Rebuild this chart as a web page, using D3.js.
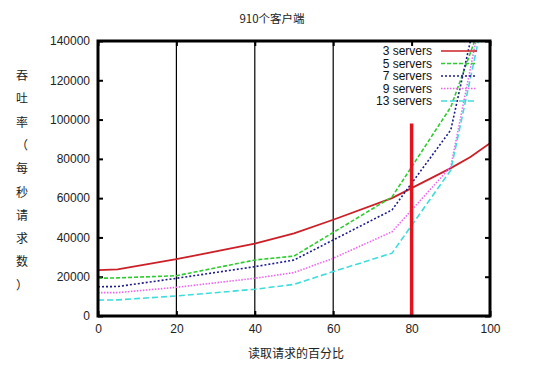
<!DOCTYPE html>
<html>
<head>
<meta charset="utf-8">
<script src="https://cdn.jsdelivr.net/npm/d3@7"></script>
<style>
  body { margin: 0; background: #fff; }
  svg { display: block; }
</style>
</head>
<body>
<div id="chart"></div>
<script>
// read percentage (x) and throughput per server count
const readPct = [0, 5, 20, 40, 50, 60, 75, 90, 95, 100];
const servers3  = [23400, 23700, 28900, 36800, 42100, 49000, 60000, 75300, 80900, 88000];
const servers5  = [19200, 19400, 20500, 28500, 30500, 42500, 60600, 106400, 134000, 162000];
const servers7  = [14900, 15000, 19200, 25100, 28500, 38700, 54000, 94700, 140000, 185000];
const servers9  = [11900, 11900, 14600, 19200, 22100, 29400, 42900, 76000, 126000, 176000];
const servers13 = [8100, 8200, 10200, 13600, 16100, 22600, 32000, 74300, 121000, 168000];

const seriesNames = ["3 servers", "5 servers", "7 servers", "9 servers", "13 servers"];
const seriesValues = [servers3, servers5, servers7, servers9, servers13];

const xTicks = [0, 20, 40, 60, 80, 100];
const yTicks = [0, 20000, 40000, 60000, 80000, 100000, 120000, 140000];
const guideX = [20, 40, 60];
const markerX = 80;
const markerTop = 98000;

const title = "910个客户端";
const xTitle = "读取请求的百分比";
const yTitle = ["吞", "吐", "率", "（", "每", "秒", "请", "求", "数", "）"];

const width = 545;
const height = 372;
const margin = {left: 98, right: 55, top: 41, bottom: 56};

const styles = [
    {color: "#cc2028", dash: null},
    {color: "#2ecc2e", dash: "4,2"},
    {color: "#1c1c8c", dash: "2,2"},
    {color: "#ee66ee", dash: "1.5,1.5"},
    {color: "#3fdcdc", dash: "6,3"}
];

const latin = "'Liberation Sans', Arial, sans-serif";
const cjk = "'Noto Sans CJK SC', 'Liberation Sans', sans-serif";

let svg = d3.select("#chart")
    .append("svg")
    .attr("width", width)
    .attr("height", height);

let xScale = d3.scaleLinear()
    .domain([0, 100])
    .range([margin.left, width - margin.right]);

let yScale = d3.scaleLinear()
    .domain([0, 140000])
    .range([height - margin.bottom, margin.top]);

svg.append("clipPath")
    .attr("id", "plot-clip")
    .append("rect")
    .attr("x", margin.left)
    .attr("y", margin.top)
    .attr("width", width - margin.left - margin.right)
    .attr("height", height - margin.top - margin.bottom);

// axes with inward ticks, mirrored on all sides
let tickLen = 5;
svg.append("g")
    .attr("transform", `translate(${margin.left},0)`)
    .call(d3.axisLeft(yScale).tickValues(yTicks).tickSize(-tickLen).tickPadding(8).tickFormat(d3.format("d")))
    .call(g => g.select(".domain").remove());
svg.append("g")
    .attr("transform", `translate(${width - margin.right},0)`)
    .call(d3.axisRight(yScale).tickValues(yTicks).tickSize(-tickLen).tickFormat(""))
    .call(g => g.select(".domain").remove());
svg.append("g")
    .attr("transform", `translate(0,${height - margin.bottom})`)
    .call(d3.axisBottom(xScale).tickValues(xTicks).tickSize(-tickLen).tickPadding(8))
    .call(g => g.select(".domain").remove());
svg.append("g")
    .attr("transform", `translate(0,${margin.top})`)
    .call(d3.axisTop(xScale).tickValues(xTicks).tickSize(-tickLen).tickFormat(""))
    .call(g => g.select(".domain").remove());

svg.selectAll(".tick line").attr("stroke", "#000").attr("stroke-width", 2);
svg.selectAll(".tick text")
    .style("font-family", latin)
    .style("font-size", "12px")
    .attr("fill", "#222");

// vertical guide lines
svg.append("g")
    .selectAll("line")
    .data(guideX)
    .enter()
    .append("line")
    .attr("x1", d => xScale(d))
    .attr("x2", d => xScale(d))
    .attr("y1", yScale(0))
    .attr("y2", yScale(140000))
    .attr("stroke", "#000")
    .attr("stroke-width", 1.2);

// series
let line = d3.line()
    .x((d, i) => xScale(readPct[i]))
    .y(d => yScale(d));

let plot = svg.append("g").attr("clip-path", "url(#plot-clip)");

plot.selectAll(".curve")
    .data(seriesValues)
    .enter()
    .append("path")
    .attr("class", "curve")
    .attr("fill", "none")
    .attr("stroke", (d, i) => styles[i].color)
    .attr("stroke-width", (d, i) => i == 0 ? 1.8 : 1.6)
    .attr("stroke-dasharray", (d, i) => styles[i].dash)
    .attr("d", d => line(d));

// red marker at 80%
svg.append("line")
    .attr("x1", xScale(markerX))
    .attr("x2", xScale(markerX))
    .attr("y1", yScale(markerTop))
    .attr("y2", yScale(0))
    .attr("stroke", "#e3141e")
    .attr("stroke-width", 3.5);

// frame
svg.append("rect")
    .attr("x", margin.left)
    .attr("y", margin.top)
    .attr("width", width - margin.left - margin.right)
    .attr("height", height - margin.top - margin.bottom)
    .attr("fill", "none")
    .attr("stroke", "#000")
    .attr("stroke-width", 3);

// legend
let legend = svg.append("g")
    .selectAll("g")
    .data(seriesNames)
    .enter()
    .append("g")
    .attr("transform", (d, i) => `translate(0,${51 + i * 12.5})`);

legend.append("text")
    .attr("x", 432)
    .attr("y", 4)
    .attr("text-anchor", "end")
    .style("font-family", latin)
    .style("font-size", "12px")
    .attr("fill", "#111")
    .text(d => d);

legend.append("line")
    .attr("x1", 441)
    .attr("x2", 477)
    .attr("y1", 0)
    .attr("y2", 0)
    .attr("stroke", (d, i) => styles[i].color)
    .attr("stroke-width", 1.6)
    .attr("stroke-dasharray", (d, i) => styles[i].dash);

// titles
svg.append("text")
    .attr("x", 272)
    .attr("y", 23)
    .attr("text-anchor", "middle")
    .style("font-family", cjk)
    .style("font-size", "11.5px")
    .attr("fill", "#222")
    .text(title);

svg.append("text")
    .attr("x", 296)
    .attr("y", 358)
    .attr("text-anchor", "middle")
    .style("font-family", cjk)
    .style("font-size", "12px")
    .attr("fill", "#222")
    .text(xTitle);

svg.append("g")
    .selectAll("text")
    .data(yTitle)
    .enter()
    .append("text")
    .attr("x", 22)
    .attr("y", (d, i) => 80 + i * 23.3)
    .attr("text-anchor", "middle")
    .style("font-family", cjk)
    .style("font-size", "12px")
    .attr("fill", "#222")
    .text(d => d);
</script>
</body>
</html>
